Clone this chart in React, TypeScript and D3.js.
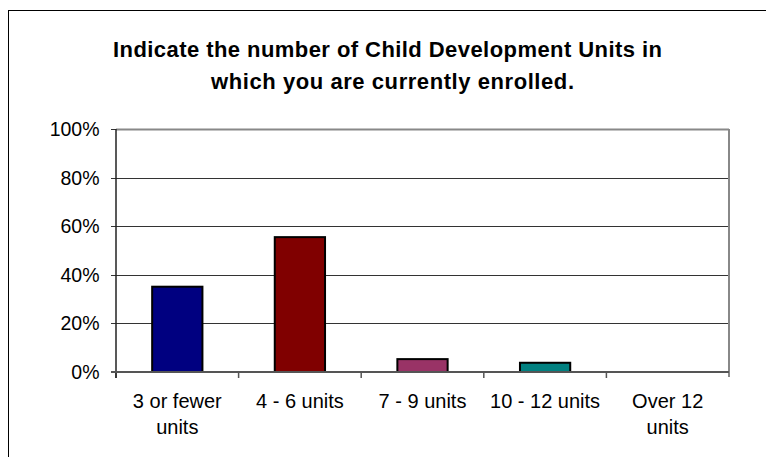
import React from "react";
import * as d3 from "d3";

const titleLines = ["Indicate the number of Child Development Units in", "which you are currently enrolled."];
const titleStarts = [113, 211];
const titleWidths = [549, 363];
const categories = ["3 or fewer\nunits", "4 - 6 units", "7 - 9 units", "10 - 12 units", "Over 12\nunits"];
const values = [0.351, 0.555, 0.053, 0.038, 0];
const colors = ["#000080", "#800000", "#993366", "#008080", "#8080ff"];
const yTicks = [0, 0.2, 0.4, 0.6, 0.8, 1.0];

export default function App() {
  const W = 766, H = 457;
  const left = 116, right = 729, top = 129, bottom = 372;
  const x = d3.scaleBand<string>().domain(categories).range([left, right]).paddingInner(0).paddingOuter(0);
  const y = d3.scaleLinear().domain([0, 1]).range([bottom, top]);
  const barW = x.bandwidth() * 0.41;
  const fmt = d3.format(".0%");
  const font = "Arial, 'Liberation Sans', sans-serif";
  return (
    <svg width={W} height={H} style={{ position: "absolute", left: 0, top: 0 }} fontFamily={font}>
      <rect x={0} y={0} width={W} height={H} fill="#fff" />
      <rect x={8.5} y={10.5} width={800} height={500} fill="none" stroke="#000" strokeWidth={1} />
      {titleLines.map((t, i) => (
        <text key={i} x={titleStarts[i]} y={57 + i * 32} textAnchor="start" fontSize={22} fontWeight="bold" fill="#000"
          textLength={titleWidths[i]} lengthAdjust="spacing">{t}</text>
      ))}
      {yTicks.map((t) => (
        <g key={t}>
          {t > 0 && <line x1={left} x2={right} y1={Math.round(y(t)) + 0.5} y2={Math.round(y(t)) + 0.5}
            stroke={t === 1 ? "#888" : "#333"} strokeWidth={t === 1 ? 2 : 1} />}
          <line x1={left - 5} x2={left} y1={Math.round(y(t)) + 0.5} y2={Math.round(y(t)) + 0.5} stroke="#333" strokeWidth={1} />
          <text x={left - 16.5} y={y(t) + 7} textAnchor="end" fontSize={19.5} fill="#000">{fmt(t)}</text>
        </g>
      ))}
      <line x1={right} x2={right} y1={top} y2={bottom + 5} stroke="#888" strokeWidth={2} />
      {categories.map((c, i) => {
        const bx = (x(c) as number) + (x.bandwidth() - barW) / 2;
        const by = y(values[i]);
        return values[i] > 0 ? (
          <rect key={c} x={bx} y={by} width={barW} height={bottom - by} fill={colors[i]} stroke="#000" strokeWidth={2} />
        ) : null;
      })}
      {categories.map((c, i) => (
        <line key={"t" + i} x1={x(c) as number} x2={x(c) as number} y1={bottom} y2={bottom + 6} stroke="#555" strokeWidth={1.5} />
      ))}
      <line x1={left} x2={left} y1={top} y2={bottom + 6} stroke="#222" strokeWidth={1.5} />
      <line x1={left - 5} x2={right} y1={bottom} y2={bottom} stroke="#555" strokeWidth={2} />
      {categories.map((c) => (
        <text key={"l" + c} x={(x(c) as number) + x.bandwidth() / 2} y={bottom + 36} textAnchor="middle" fontSize={20} fill="#000">
          {c.split("\n").map((s, j) => (
            <tspan key={j} x={(x(c) as number) + x.bandwidth() / 2} dy={j === 0 ? 0 : 26}>{s}</tspan>
          ))}
        </text>
      ))}
    </svg>
  );
}
